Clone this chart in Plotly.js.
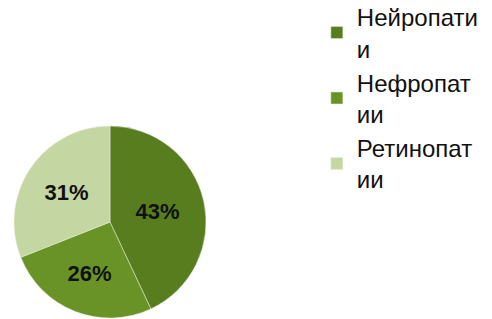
<!DOCTYPE html>
<html>
<head>
<meta charset="utf-8">
<script src="https://cdn.plot.ly/plotly-3.0.1.min.js"></script>
<style>html,body{margin:0;padding:0;background:#fff;}#chart{width:492px;height:319px;}</style>
</head>
<body>
<div id="chart"></div>
<script>
const categories = ["Нейропати<br>и", "Нефропат<br>ии", "Ретинопат<br>ии"];
const values = [43, 26, 31];
const colors = ["#577d1e", "#6a9327", "#c4d6a2"];

const trace = {
  type: "pie",
  labels: categories,
  values: values,
  sort: false,
  direction: "clockwise",
  rotation: 0,
  textinfo: "percent",
  textposition: "inside",
  insidetextorientation: "horizontal",
  texttemplate: "%{percent:.0%}",
  textfont: {family: "Liberation Sans, Arial, sans-serif", size: 22, color: "#111111", weight: "bold"},
  marker: {colors: colors, line: {color: "#e8eedc", width: 0.5}},
  domain: {x: [0.0285, 0.4187], y: [0.003, 0.605]},
  hoverinfo: "none"
};

const layout = {
  width: 492,
  height: 319,
  margin: {l: 0, r: 0, t: 0, b: 0, autoexpand: false},
  paper_bgcolor: "#ffffff",
  showlegend: true,
  legend: {
    x: 0.644, y: 1.016, xanchor: "left", yanchor: "top",
    font: {family: "Liberation Sans, Arial, sans-serif", size: 24, color: "#111111"},
    bgcolor: "rgba(0,0,0,0)",
    itemwidth: 30,
    tracegroupgap: 0,
    maxheight: 1
  }
};

Plotly.newPlot("chart", [trace], layout, {displayModeBar: false, staticPlot: true});
</script>
</body>
</html>
